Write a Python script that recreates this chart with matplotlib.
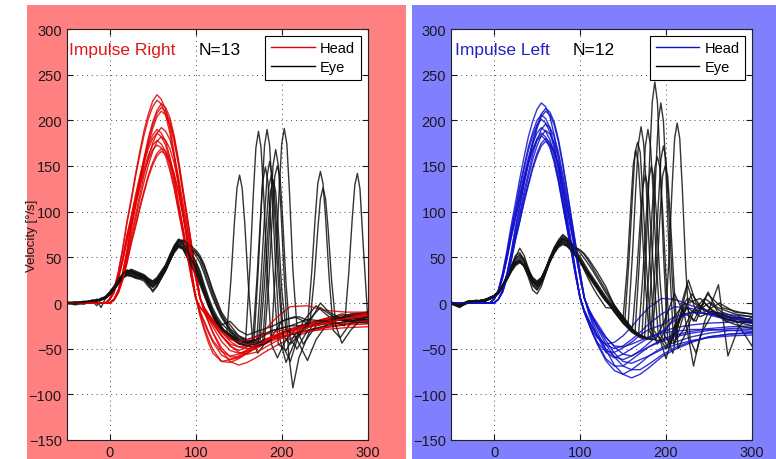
import matplotlib
matplotlib.use("Agg")
import matplotlib.pyplot as plt
from matplotlib.patches import Rectangle
from matplotlib.lines import Line2D

plt.rcParams['font.family'] = ['Liberation Sans', 'DejaVu Sans']

# ---------------------------------------------------------------------------
# Time base (ms) shared by all head traces
head_t = [-50, -5] + list(range(0, 121, 5)) + [130, 140, 150, 160, 170, 180,
                                               195, 210, 230, 250, 275, 300]
# Time base (ms) of the eye traces up to 130 ms
eye_pre_t = [-50, -40, -30, -20, -15, -10, -5] + list(range(0, 131, 5))

# ---------------------------------------------------------------------------
# Impulse Right: head velocity (deg/s), one row per impulse (N=13)
imp_right_head = [
    [0,0,5,15,34,59,89,114,141,166,189,207,221,228,223,212,192,164,132,100,68,36,7,-12,-27,-40,-51,-64,-65,-61,-55,-49,-43,-36,-31,-25,-21,-18,-16],
    [0,0,4,15,33,58,87,111,138,162,184,202,215,222,218,206,186,160,129,98,67,36,7,-10,-22,-33,-43,-57,-62,-60,-54,-48,-42,-35,-30,-23,-19,-15,-13],
    [0,0,0,4,14,33,57,85,109,135,159,181,198,211,218,214,203,183,157,126,96,65,35,7,-10,-21,-33,-52,-64,-68,-65,-60,-54,-46,-39,-32,-27,-23,-20],
    [0,0,0,4,14,32,56,83,107,133,156,178,195,208,214,210,199,180,154,124,94,64,34,6,-10,-21,-32,-49,-59,-59,-55,-49,-43,-35,-29,-22,-18,-14,-12],
    [0,0,0,4,14,32,55,82,105,130,153,174,191,204,210,206,195,176,151,122,92,63,34,6,-8,-17,-26,-42,-52,-55,-53,-50,-45,-39,-35,-30,-26,-23,-21],
    [0,0,0,4,13,29,50,75,96,119,140,159,175,186,192,188,179,161,138,111,84,58,31,6,-6,-13,-20,-32,-42,-48,-50,-48,-44,-36,-29,-23,-17,-13,-11],
    [0,0,4,13,29,49,74,95,118,139,158,173,184,190,186,177,160,137,110,84,57,30,6,-14,-30,-44,-55,-64,-62,-58,-52,-47,-43,-38,-34,-30,-27,-24,-23],
    [0,0,4,12,28,48,73,93,115,136,154,169,180,186,182,173,156,134,108,82,56,30,6,-9,-20,-31,-41,-53,-58,-56,-51,-46,-40,-34,-29,-24,-20,-17,-15],
    [0,0,0,4,12,27,47,71,91,113,133,151,166,177,182,178,169,153,131,106,80,55,29,5,-5,-12,-18,-30,-39,-44,-45,-43,-41,-37,-34,-31,-29,-27,-26],
    [0,0,4,12,27,46,69,89,110,130,148,162,173,178,174,166,150,128,103,78,53,28,5,-4,-10,-15,-21,-35,-47,-52,-48,-40,-30,-15,-4,-3,-8,-10,-10],
    [0,0,3,11,26,45,67,87,107,126,144,157,168,173,170,161,145,125,100,76,52,28,5,-5,-11,-17,-23,-36,-45,-48,-47,-44,-40,-35,-31,-26,-23,-21,-19],
    [0,0,0,3,11,25,44,66,85,105,123,140,154,164,169,166,157,142,122,98,74,51,27,5,-6,-13,-19,-31,-40,-42,-40,-37,-35,-31,-28,-25,-23,-22,-21],
    [0,0,0,3,11,25,43,65,83,103,121,138,151,161,166,163,154,139,120,96,73,50,27,5,-6,-15,-22,-36,-47,-54,-56,-54,-49,-41,-34,-27,-22,-17,-14],
]

# Impulse Right: eye velocity up to 130 ms
imp_right_eye_pre = [
    [0,1,0,3,2,5,7,12,18,25,31,35,36,33,31,29,25,22,26,33,41,52,62,69,66,60,53,45,33,17,3,-9,-18,-25],
    [1,0,-1,1,4,3,5,9,14,21,27,31,30,28,27,26,20,17,21,28,36,46,56,63,61,50,40,30,20,8,-4,-14,-22,-28],
    [-1,0,2,2,-3,4,6,11,17,24,30,34,35,34,32,30,26,24,27,34,40,50,60,67,67,64,60,56,48,36,22,8,-4,-14],
    [0,-2,0,3,3,-5,5,9,15,22,28,32,31,29,28,27,22,19,23,30,37,47,58,64,60,53,46,38,26,12,-2,-14,-22,-28],
    [0,0,1,2,3,4,7,11,17,23,29,34,37,35,33,31,27,24,28,35,42,53,63,70,68,63,58,52,44,32,18,5,-6,-16],
    [1,-1,0,1,2,5,6,10,16,23,28,31,30,27,26,24,18,14,19,27,35,46,57,63,61,52,44,35,24,12,0,-11,-20,-27],
    [0,1,1,2,4,3,6,10,15,22,29,33,32,30,29,27,21,12,18,27,36,46,56,62,60,54,49,42,30,14,0,-12,-21,-28],
    [-1,0,0,3,2,4,5,9,15,22,28,33,35,33,32,30,26,22,25,32,39,51,61,68,65,62,58,55,50,40,27,12,-1,-12],
    [0,0,-1,2,3,4,6,11,18,25,31,36,35,32,30,28,24,21,24,31,38,48,58,65,64,58,50,40,28,14,2,-10,-18,-24],
    [0,-1,1,2,3,4,6,10,16,22,27,30,29,28,27,26,22,19,22,29,36,46,55,61,59,50,42,33,22,10,-3,-15,-24,-30],
    [1,0,1,1,3,4,5,10,16,24,30,34,33,31,30,27,22,18,23,31,39,50,60,66,64,59,53,46,35,20,6,-6,-15,-22],
    [0,1,0,2,3,5,6,9,14,21,27,32,33,32,31,29,25,22,25,32,40,51,61,67,69,66,62,58,52,42,28,14,2,-10],
    [0,0,1,3,2,4,7,12,18,26,32,36,34,31,29,28,23,19,22,29,37,48,58,64,62,56,48,38,26,12,-2,-13,-22,-28],
]

# Impulse Right: eye velocity after 130 ms, (ms, deg/s) pairs incl. catch-up saccades
imp_right_eye_post = [
    [(136,-35),(141,26),(145,88),(148,126),(151,140),(154,126),(157,88),(161,23),(166,-40),(172,-55),(180,-45),(190,-35),(200,-20),(215,-15),(230,-22),(250,-18),(270,-12),(285,-15),(300,-12)],
    [(140,-35),(150,-40),(158,-42),(163,38),(167,119),(170,170),(173,188),(176,170),(179,119),(183,34),(188,-45),(195,-60),(205,-40),(220,-25),(240,-20),(260,-15),(280,-18),(300,-14)],
    [(140,-30),(150,-38),(160,-42),(168,-40),(173,41),(177,121),(180,172),(183,190),(186,172),(189,121),(193,36),(198,-40),(205,-65),(212,-50),(225,-20),(240,-3),(255,-15),(275,-20),(300,-18)],
    [(140,-34),(150,-42),(165,-45),(178,-43),(183,31),(187,104),(190,151),(193,168),(196,151),(199,104),(203,27),(208,-55),(213,-93),(220,-60),(235,-25),(250,-20),(275,-15),(300,-10)],
    [(140,-30),(150,-40),(160,-43),(171,-40),(176,28),(180,94),(183,139),(186,155),(189,139),(192,94),(196,25),(201,-35),(210,-45),(225,-30),(240,-22),(260,-18),(280,-20),(300,-16)],
    [(140,-36),(150,-44),(160,-46),(166,-44),(171,23),(175,88),(178,133),(181,149),(184,133),(187,88),(191,20),(196,-45),(205,-52),(215,-35),(230,-63),(240,-40),(255,-20),(275,-15),(300,-20)],
    [(140,-38),(150,-45),(165,-48),(180,-45),(188,-40),(193,42),(197,122),(200,174),(203,191),(206,174),(209,122),(213,36),(218,-30),(225,-45),(240,-25),(260,-20),(280,-12),(300,-10)],
    [(140,-28),(150,-36),(160,-40),(175,-35),(190,-30),(210,-25),(230,-25),(235,35),(239,94),(242,131),(245,144),(248,131),(251,94),(255,30),(260,-30),(268,-38),(280,-22),(300,-15)],
    [(140,-20),(150,-30),(160,-35),(175,-30),(190,-25),(205,-18),(220,-15),(233,-20),(238,28),(242,81),(245,114),(248,126),(251,114),(254,81),(258,25),(263,-25),(270,-44),(280,-30),(290,-20),(300,-18)],
    [(140,-35),(150,-42),(160,-44),(175,-38),(190,-30),(210,-25),(230,-18),(250,-20),(265,-22),(273,-25),(278,33),(282,92),(285,129),(288,142),(291,125),(295,60),(300,-15)],
    [(140,-32),(150,-40),(160,-44),(173,-42),(178,22),(182,84),(185,127),(188,140),(191,127),(194,84),(198,18),(203,-50),(210,-64),(218,-40),(230,-20),(245,-5),(260,-15),(280,-20),(300,-15)],
    [(140,-24),(150,-36),(160,-42),(175,-40),(180,21),(184,80),(187,122),(190,135),(193,122),(196,80),(200,15),(205,-30),(215,-35),(230,-25),(245,0),(255,-10),(275,-20),(300,-22)],
    [(140,-36),(150,-44),(160,-47),(170,-45),(180,-40),(185,24),(189,94),(192,139),(195,150),(198,139),(201,94),(205,22),(210,-40),(218,-50),(230,-30),(250,-25),(275,-20),(300,-18)],
]

# ---------------------------------------------------------------------------
# Impulse Left: head velocity (deg/s), one row per impulse (N=12)
imp_left_head = [
    [0,0,4,14,33,57,85,110,136,160,182,199,212,219,215,204,184,158,127,96,66,35,7,-10,-22,-34,-45,-63,-74,-78,-73,-66,-58,-49,-43,-37,-33,-30,-29],
    [0,0,0,4,14,32,55,83,107,132,155,177,194,207,213,209,198,179,153,124,94,64,34,6,-11,-24,-36,-54,-60,-56,-50,-44,-38,-32,-27,-24,-22,-21,-20],
    [0,0,0,4,14,32,55,82,105,130,153,174,191,204,210,206,195,176,151,122,92,63,34,6,-9,-21,-31,-51,-68,-78,-82,-78,-71,-59,-51,-43,-37,-34,-32],
    [0,0,4,14,31,54,80,103,128,150,171,187,200,206,202,192,173,148,119,91,62,33,6,-10,-22,-34,-43,-61,-69,-69,-62,-55,-48,-40,-35,-31,-28,-26,-25],
    [0,0,4,13,30,52,78,101,125,147,167,183,195,201,197,187,169,145,117,88,60,32,6,-10,-22,-33,-43,-53,-54,-49,-43,-35,-29,-24,-15,-10,-12,-16,-19],
    [0,0,0,4,13,29,51,76,98,122,143,163,178,190,196,192,182,165,141,114,86,59,31,6,-7,-16,-25,-41,-55,-64,-66,-62,-58,-51,-46,-41,-38,-36,-35],
    [0,0,4,13,29,50,75,96,119,140,159,175,186,192,188,179,161,138,111,84,58,31,6,-10,-21,-31,-38,-45,-43,-36,-26,-15,-5,5,4,-3,-9,-13,-15],
    [0,0,0,4,12,28,49,74,95,117,138,157,172,183,189,185,176,159,136,110,83,57,30,6,-7,-18,-27,-45,-59,-69,-73,-73,-67,-57,-49,-42,-37,-34,-33],
    [0,0,4,12,28,48,73,93,115,136,154,169,180,186,182,173,156,134,108,82,56,30,6,-8,-18,-28,-36,-46,-50,-47,-40,-32,-23,-12,-4,-6,-13,-19,-22],
    [0,0,4,12,27,48,71,92,113,134,152,167,178,183,179,170,154,132,106,81,55,29,5,-8,-18,-27,-35,-50,-59,-62,-58,-53,-48,-42,-37,-33,-30,-28,-27],
    [0,0,0,4,12,27,47,70,90,112,131,149,164,175,180,176,167,151,130,104,79,54,29,5,-6,-15,-22,-37,-48,-56,-58,-52,-44,-31,-19,-10,-12,-17,-20],
    [0,0,0,4,12,27,46,69,89,110,129,147,161,172,177,173,165,149,127,103,78,53,28,5,-7,-17,-25,-38,-47,-48,-45,-41,-37,-33,-31,-29,-29,-30,-31],
]

# Impulse Left: eye velocity up to 130 ms
imp_left_eye_pre = [
    [0,-4,2,1,3,2,6,8,12,19,28,39,48,52,46,34,24,20,25,36,48,58,67,72,69,62,56,49,41,33,26,19,12,5],
    [1,-2,0,3,2,4,5,7,10,17,26,35,42,45,40,30,19,14,21,33,45,55,63,67,64,58,52,47,39,31,24,17,10,3],
    [-1,-5,1,2,1,3,4,6,10,17,27,38,50,60,52,38,26,22,27,37,49,59,66,70,67,63,60,58,54,48,41,34,26,18],
    [0,-3,2,2,3,4,5,8,12,19,28,36,43,46,41,30,20,15,22,34,47,57,64,68,65,59,53,46,38,30,23,16,9,2],
    [0,-1,0,1,2,3,6,8,13,20,29,40,52,55,47,35,24,20,26,37,49,60,68,74,70,65,61,58,53,46,38,30,22,14],
    [1,-3,1,2,2,3,5,7,11,18,26,35,43,46,42,33,25,21,26,36,46,56,63,66,63,58,52,46,38,31,24,18,11,4],
    [0,-2,2,3,1,2,5,8,12,19,27,37,45,47,40,28,14,10,18,32,45,56,64,69,66,60,54,47,39,31,24,17,10,3],
    [-1,-4,0,2,3,2,4,7,11,18,27,38,46,50,46,36,28,24,28,38,49,58,66,70,68,63,57,51,43,35,28,21,14,7],
    [0,-3,1,1,2,4,6,8,11,17,25,34,41,44,41,34,27,23,27,36,47,56,62,65,63,58,52,47,40,33,26,19,12,5],
    [1,-1,2,2,3,3,5,7,12,20,30,41,49,53,48,37,25,18,23,34,46,57,66,71,68,62,55,46,36,26,17,9,2,-5],
    [0,-3,0,2,2,3,5,8,12,18,26,36,44,48,44,34,24,19,25,37,50,61,69,75,71,66,60,55,49,42,35,27,19,11],
    [0,-2,1,2,3,4,6,8,11,18,27,37,44,46,41,31,22,17,23,34,45,54,61,64,62,57,51,45,37,29,22,15,8,2],
]

# Impulse Left: eye velocity after 130 ms, (ms, deg/s) pairs incl. catch-up saccades
imp_left_eye_post = [
    [(140,-6),(150,-18),(160,-28),(172,-38),(177,60),(181,158),(184,220),(187,242),(190,220),(193,158),(197,55),(202,-40),(208,-55),(215,-20),(225,20),(235,-10),(250,0),(265,-10),(280,-15),(300,-18)],
    [(140,-10),(150,-22),(160,-32),(170,-38),(179,-40),(184,51),(188,141),(191,199),(194,219),(197,199),(200,141),(204,45),(209,-45),(215,-30),(225,0),(240,5),(255,-10),(270,-20),(285,-15),(300,-20)],
    [(140,-4),(150,-15),(156,-22),(161,53),(165,128),(168,175),(171,193),(174,175),(177,128),(181,50),(186,-30),(193,-40),(200,-61),(210,-30),(220,-5),(232,-69),(240,-35),(255,-10),(275,-15),(300,-20)],
    [(140,-8),(150,-20),(160,-30),(164,-33),(169,45),(173,123),(176,172),(179,190),(182,172),(185,123),(189,41),(194,-35),(203,-50),(212,-20),(226,25),(235,0),(250,-10),(270,-15),(300,-22)],
    [(140,-2),(150,-16),(160,-28),(170,-36),(185,-40),(198,-42),(203,42),(207,125),(210,180),(213,197),(216,180),(219,125),(223,38),(228,-40),(235,-55),(245,-20),(261,20),(272,-58),(285,-25),(300,-15)],
    [(140,-8),(150,-20),(152,-22),(157,48),(161,117),(164,165),(167,176),(170,165),(173,117),(177,45),(182,-25),(190,-45),(199,-30),(210,-15),(225,5),(240,-5),(260,-15),(280,-20),(300,-25)],
    [(140,-5),(150,-18),(155,40),(159,106),(162,152),(165,167),(168,152),(171,106),(175,35),(180,-30),(188,-40),(198,-20),(210,10),(220,-10),(235,-20),(249,12),(260,-10),(280,-18),(300,-47)],
    [(140,-4),(150,-17),(160,-28),(170,-35),(182,-40),(187,35),(191,107),(194,157),(197,172),(200,157),(203,107),(207,30),(212,-40),(220,-30),(230,-10),(245,5),(260,-5),(280,-12),(300,-15)],
    [(140,-10),(150,-22),(160,-31),(170,-37),(175,-38),(180,33),(184,102),(187,148),(190,160),(193,148),(196,102),(200,28),(205,-45),(212,-30),(222,0),(232,-20),(248,10),(265,-5),(285,-10),(300,-12)],
    [(140,-6),(150,-18),(160,-30),(168,-36),(173,29),(177,94),(180,136),(183,150),(186,136),(189,94),(193,25),(198,-35),(205,-45),(218,-15),(230,10),(245,-10),(262,0),(280,-10),(300,-12)],
    [(140,-3),(150,-15),(161,-28),(166,31),(170,90),(173,127),(176,140),(179,127),(182,86),(186,28),(191,-35),(200,-50),(210,-25),(225,-5),(240,-15),(255,-8),(270,-20),(285,-25),(300,-28)],
    [(140,-8),(150,-20),(160,-30),(170,-36),(184,-40),(189,27),(193,94),(196,139),(199,150),(202,139),(205,94),(209,25),(214,-50),(222,-35),(232,-10),(245,0),(262,-15),(280,-20),(300,-22)],
]

panel_titles = ['Impulse Right', 'Impulse Left']
panel_counts = ['N=13', 'N=12']
y_ticks = [-150, -100, -50, 0, 50, 100, 150, 200, 250, 300]
x_ticks = [0, 100, 200, 300]

# ---------------------------------------------------------------------------
W, H = 776, 460
fig = plt.figure(figsize=(W / 100, H / 100), dpi=100)
fig.patch.set_facecolor('white')


def px_rect(x0, y0, x1, y1, color):
    fig.patches.append(Rectangle((x0 / W, 1 - y1 / H), (x1 - x0) / W, (y1 - y0) / H,
                                 transform=fig.transFigure, facecolor=color,
                                 edgecolor='none', zorder=-10))


px_rect(27, 5.5, 406, 470, '#FF8080')
px_rect(412, 5.5, 776, 470, '#8080FF')

ax_w, ax_h = 301 / W, 411 / H
ax_b = 1 - 441 / H
ax_r = fig.add_axes([66.7 / W, ax_b, ax_w, ax_h])
ax_l = fig.add_axes([451 / W, ax_b, ax_w, ax_h])

head_colors = ['#E00000', '#1010CC']
title_colors = ['#E01818', '#2424C0']
eye_color = '#111111'

panels = [
    (ax_r, imp_right_head, imp_right_eye_pre, imp_right_eye_post),
    (ax_l, imp_left_head, imp_left_eye_pre, imp_left_eye_post),
]

for k, (ax, heads, eye_pre, eye_post) in enumerate(panels):
    for head, pre, post in zip(heads, eye_pre, eye_post):
        ax.plot(head_t, head, color=head_colors[k], lw=1.0, alpha=0.85, zorder=3)
        et = eye_pre_t + [p[0] for p in post]
        ev = pre + [p[1] for p in post]
        ax.plot(et, ev, color=eye_color, lw=1.0, alpha=0.85, zorder=3)

    ax.set_xlim(-50, 300)
    ax.set_ylim(-150, 300)
    ax.set_xticks(x_ticks)
    ax.set_yticks(y_ticks)
    ax.grid(True, linestyle=(0, (1, 4)), color='#444444', lw=0.7)
    ax.set_axisbelow(True)
    ax.tick_params(direction='in', top=True, right=True, length=4, width=0.8,
                   labelsize=10.5, colors='#1a1a1a', pad=3.5)
    for sp in ax.spines.values():
        sp.set_color('#222222')
        sp.set_linewidth(0.8)
    ax.set_facecolor('white')

    ax.text(0.009 if k == 0 else 0.013, 0.939, panel_titles[k], transform=ax.transAxes,
            color=title_colors[k], fontsize=12.5, ha='left', va='baseline', zorder=5)
    ax.text(0.437 if k == 0 else 0.404, 0.939, panel_counts[k], transform=ax.transAxes,
            color='black', fontsize=12.5, ha='left', va='baseline', zorder=5)

    handles = [Line2D([], [], color=head_colors[k], lw=1.0),
               Line2D([], [], color='black', lw=1.0)]
    leg = ax.legend(handles, ['Head', 'Eye'], loc='upper right', fontsize=10.5,
                    frameon=True, fancybox=False, framealpha=1, edgecolor='black',
                    handlelength=3.0, handletextpad=0.35, labelspacing=0.3,
                    borderpad=0.4, borderaxespad=0.45)
    leg.get_frame().set_linewidth(0.8)
    leg.set_zorder(6)

ax_r.set_ylabel('Velocity [°/s]', fontsize=9.5, color='#1a1a1a')
ax_r.yaxis.set_label_coords(-0.097, 0.5)

fig.savefig('out.png', dpi=100)
